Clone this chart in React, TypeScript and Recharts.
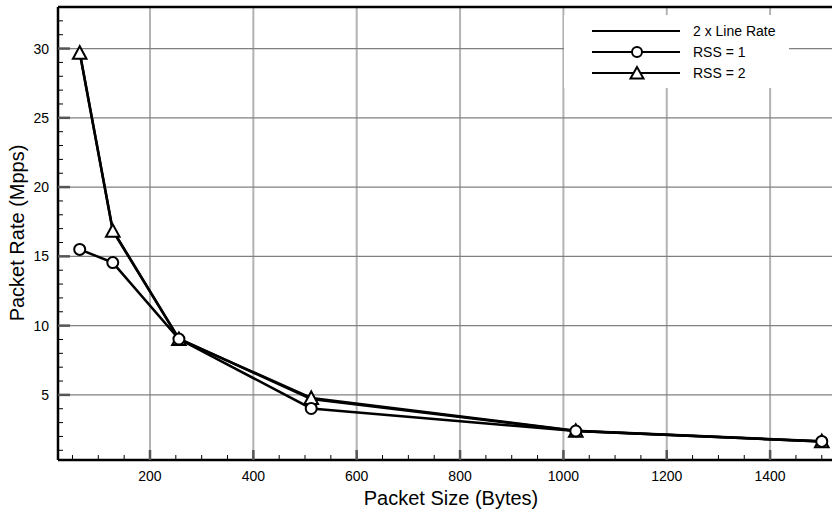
import { LineChart, Line, XAxis, YAxis, CartesianGrid, ReferenceLine, Legend } from 'recharts'

const packetSizes = [64, 128, 256, 512, 1024, 1500]
const lineRate = [29.76, 16.89, 9.06, 4.7, 2.39, 1.64]
const rss1 = [15.5, 14.55, 9.03, 4.02, 2.39, 1.64]
const rss2 = [29.7, 16.85, 9.03, 4.78, 2.41, 1.66]

const majorX = [200, 400, 600, 800, 1000, 1200, 1400]
const majorY = [5, 10, 15, 20, 25, 30]
const xTicks = Array.from({ length: 30 }, (_, i) => (i + 1) * 50)
const yTicks = Array.from({ length: 32 }, (_, i) => i + 1)

const data = packetSizes.map((size, i) => ({
  size,
  lineRate: lineRate[i],
  rss1: rss1[i],
  rss2: rss2[i],
}))

const FONT = '"Liberation Sans", Arial, Helvetica, sans-serif'

const XTick = (props: any) => {
  const { x, y, payload } = props
  const major = payload.value % 200 === 0
  return (
    <g>
      <line x1={x} x2={x} y1={y} y2={y - (major ? 10 : 5)} stroke={major ? '#555' : '#000'} strokeWidth={major ? 2.5 : 1} />
      {major && (
        <text x={x} y={y + 21} textAnchor="middle" fontSize={14} fontFamily={FONT} fill="#000">
          {payload.value}
        </text>
      )}
    </g>
  )
}

const YTick = (props: any) => {
  const { x, y, payload } = props
  const major = payload.value % 5 === 0
  return (
    <g>
      <line x1={x} x2={x + (major ? 12 : 5)} y1={y} y2={y} stroke={major ? '#555' : '#000'} strokeWidth={major ? 2.5 : 1} />
      {major && (
        <text x={x - 9} y={y + 5} textAnchor="end" fontSize={14} fontFamily={FONT} fill="#000">
          {payload.value}
        </text>
      )}
    </g>
  )
}

const Triangle = (props: any) => {
  const { cx, cy, index } = props
  if (cx == null || cy == null) return null
  return (
    <polygon
      key={`tri-${index}`}
      points={`${cx},${cy - 6.5} ${cx - 6.8},${cy + 6} ${cx + 6.8},${cy + 6}`}
      fill="#fff"
      stroke="#000"
      strokeWidth={2}
    />
  )
}

const legendItems = [
  { name: '2 x Line Rate', marker: 'none' },
  { name: 'RSS = 1', marker: 'circle' },
  { name: 'RSS = 2', marker: 'triangle' },
]

const LegendBox = () => (
  <svg width={225} height={73} style={{ display: 'block' }}>
    {legendItems.map((item, i) => {
      const y = 16 + i * 21
      return (
        <g key={item.name}>
          <line x1={28} x2={116} y1={y} y2={y} stroke="#000" strokeWidth={2} />
          {item.marker === 'circle' && <circle cx={73} cy={y} r={5} fill="#fff" stroke="#000" strokeWidth={2} />}
          {item.marker === 'triangle' && (
            <polygon points={`73,${y - 6} ${66.5},${y + 5.5} ${79.5},${y + 5.5}`} fill="#fff" stroke="#000" strokeWidth={2} />
          )}
          <text x={129} y={y + 5} fontSize={14} fontFamily={FONT} fill="#000">
            {item.name}
          </text>
        </g>
      )
    })}
  </svg>
)

export default function App() {
  return (
    <div style={{ position: 'absolute', left: 0, top: 0, width: 832, height: 511, overflow: 'hidden', background: '#fff' }}>
      <LineChart width={844} height={511} data={data} margin={{ top: 7, right: 0, bottom: 0, left: 0 }}>
        <CartesianGrid horizontal={false} verticalValues={majorX} stroke="#b3b3b3" strokeWidth={2} />
        <CartesianGrid vertical={false} horizontalValues={majorY} stroke="#808080" strokeWidth={1.2} />
        <XAxis
          dataKey="size"
          type="number"
          domain={[22, 1543]}
          ticks={xTicks}
          interval={0}
          tick={<XTick />}
          tickSize={0}
          tickMargin={0}
          tickLine={false}
          axisLine={{ stroke: '#000', strokeWidth: 2.5 }}
          height={51}
          label={{
            position: 'center',
            content: () => (
              <text x={451} y={498} textAnchor="middle" dominantBaseline="central" fontSize={20} fontFamily={FONT} fill="#000">
                Packet Size (Bytes)
              </text>
            ),
          }}
        />
        <YAxis
          type="number"
          domain={[0.3, 33]}
          ticks={yTicks}
          interval={0}
          tick={<YTick />}
          tickSize={0}
          tickMargin={0}
          tickLine={false}
          axisLine={{ stroke: '#000', strokeWidth: 2.5 }}
          width={58}
          label={{
            position: 'center',
            content: () => (
              <text
                x={17}
                y={233}
                transform="rotate(-90 17 233)"
                textAnchor="middle"
                dominantBaseline="central"
                fontSize={20}
                fontFamily={FONT}
                fill="#000"
              >
                Packet Rate (Mpps)
              </text>
            ),
          }}
        />
        <ReferenceLine y={33} stroke="#000" strokeWidth={2.5} />
        <Line dataKey="lineRate" stroke="#000" strokeWidth={2.5} dot={false} activeDot={false} isAnimationActive={false} />
        <Line
          dataKey="rss2"
          stroke="#000"
          strokeWidth={2.5}
          dot={<Triangle />}
          activeDot={false}
          isAnimationActive={false}
        />
        <Line
          dataKey="rss1"
          stroke="#000"
          strokeWidth={2.5}
          dot={{ r: 5.5, fill: '#fff', stroke: '#000', strokeWidth: 2 }}
          activeDot={false}
          isAnimationActive={false}
        />
        <Legend
          layout="vertical"
          align="center"
          verticalAlign="middle"
          wrapperStyle={{ left: 564, top: 15, width: 225, height: 73, background: '#fff' }}
          content={<LegendBox />}
        />
      </LineChart>
    </div>
  )
}
